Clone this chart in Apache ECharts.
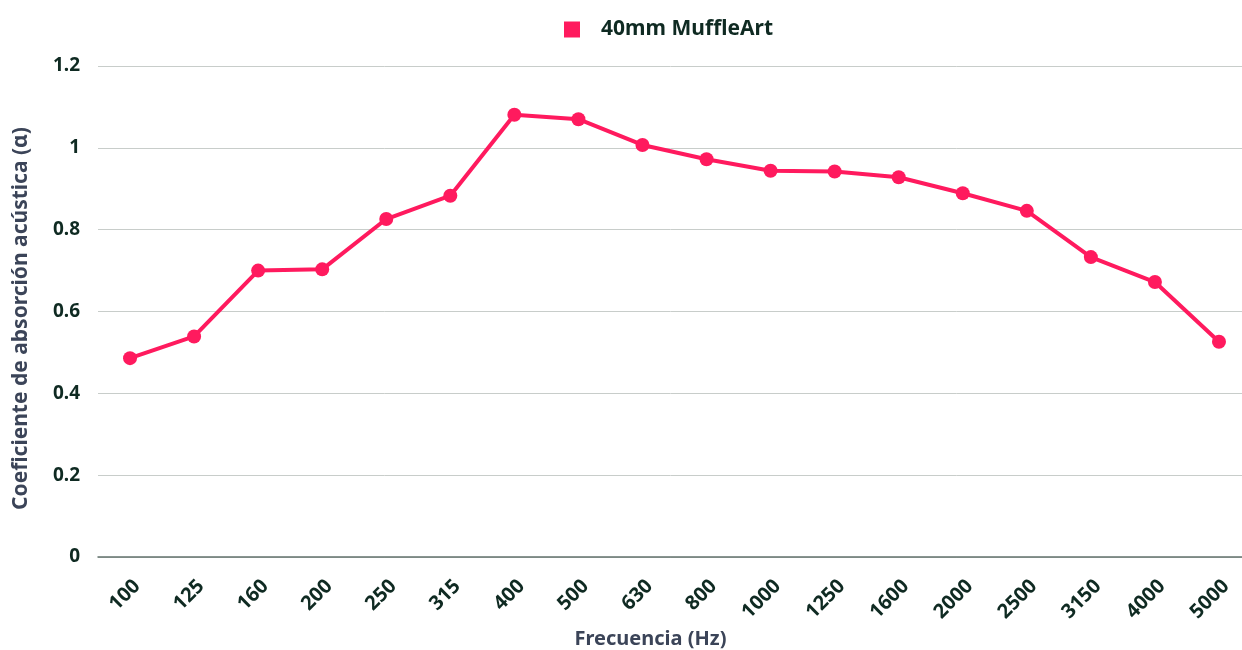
<!DOCTYPE html>
<html style="height: 100%">
<head>
<meta charset="utf-8">
<style type="text/css">
    body, html, #chart {width: 100%; height: 100%; margin: 0; overflow: hidden; background: #fff;}
</style>
</head>
<body>
<div id="chart"></div>
<script type="text/javascript" src="https://cdn.jsdelivr.net/npm/echarts@6/dist/echarts.min.js"></script>
<script type="text/javascript">
// frecuencias (Hz)
var frequencies = ['100', '125', '160', '200', '250', '315', '400', '500', '630', '800',
                   '1000', '1250', '1600', '2000', '2500', '3150', '4000', '5000'];
// coeficiente de absorción, 40mm MuffleArt
var muffleArt40 = [0.486, 0.539, 0.700, 0.703, 0.826, 0.883, 1.081, 1.070, 1.007, 0.972,
                   0.944, 0.942, 0.928, 0.889, 0.846, 0.733, 0.672, 0.526];
var seriesName = '40mm MuffleArt';

var textColor = '#0f2a22';
var titleColor = '#3b4458';
var pink = '#ff1a5e';
var font = 'Noto Sans';

var chart = echarts.init(document.getElementById('chart'));
var option = {
    backgroundColor: '#ffffff',
    animation: false,
    textStyle: {fontFamily: font},
    legend: {
        top: 14,
        left: 559,
        icon: 'rect',
        itemWidth: 16,
        itemHeight: 16,
        textStyle: {
            color: textColor,
            fontSize: 21,
            fontWeight: 'bold',
            fontFamily: font,
            padding: [0, 0, 0, 16]
        },
        data: [seriesName]
    },
    grid: {
        left: 98,
        right: -9,
        top: 66,
        bottom: 93,
        containLabel: false,
        outerBoundsMode: 'none'
    },
    xAxis: {
        type: 'category',
        data: frequencies,
        boundaryGap: true,
        name: 'Frecuencia (Hz)',
        nameLocation: 'middle',
        nameGap: 71,
        nameTextStyle: {color: titleColor, fontSize: 20, fontWeight: 'bold', fontFamily: font,
                        padding: [0, 48, 0, 0]},
        axisLine: {lineStyle: {color: '#63736e', width: 1.5}},
        axisTick: {show: false},
        axisLabel: {
            rotate: 45,
            margin: 19,
            verticalAlign: 'top',
            color: textColor,
            fontSize: 20,
            fontWeight: 'bold',
            fontFamily: font,
            interval: 0
        }
    },
    yAxis: {
        type: 'value',
        min: 0,
        max: 1.2,
        interval: 0.2,
        name: 'Coeficiente de absorción acústica (α)',
        nameLocation: 'middle',
        nameGap: 66,
        nameTextStyle: {color: titleColor, fontSize: 21, fontWeight: 'bold', fontFamily: font,
                        padding: [0, 14, 0, 0]},
        axisLine: {show: false},
        axisTick: {show: false},
        splitLine: {lineStyle: {color: '#c8cdca', width: 1}},
        axisLabel: {
            margin: 18,
            color: textColor,
            fontSize: 19,
            fontWeight: 'bold',
            fontFamily: font,
            formatter: function (v) { return String(Math.round(v * 10) / 10); }
        }
    },
    series: [{
        name: seriesName,
        type: 'line',
        data: muffleArt40,
        symbol: 'circle',
        symbolSize: 14,
        lineStyle: {color: pink, width: 4},
        itemStyle: {color: pink}
    }]
};
chart.setOption(option);
</script>
</body>
</html>
